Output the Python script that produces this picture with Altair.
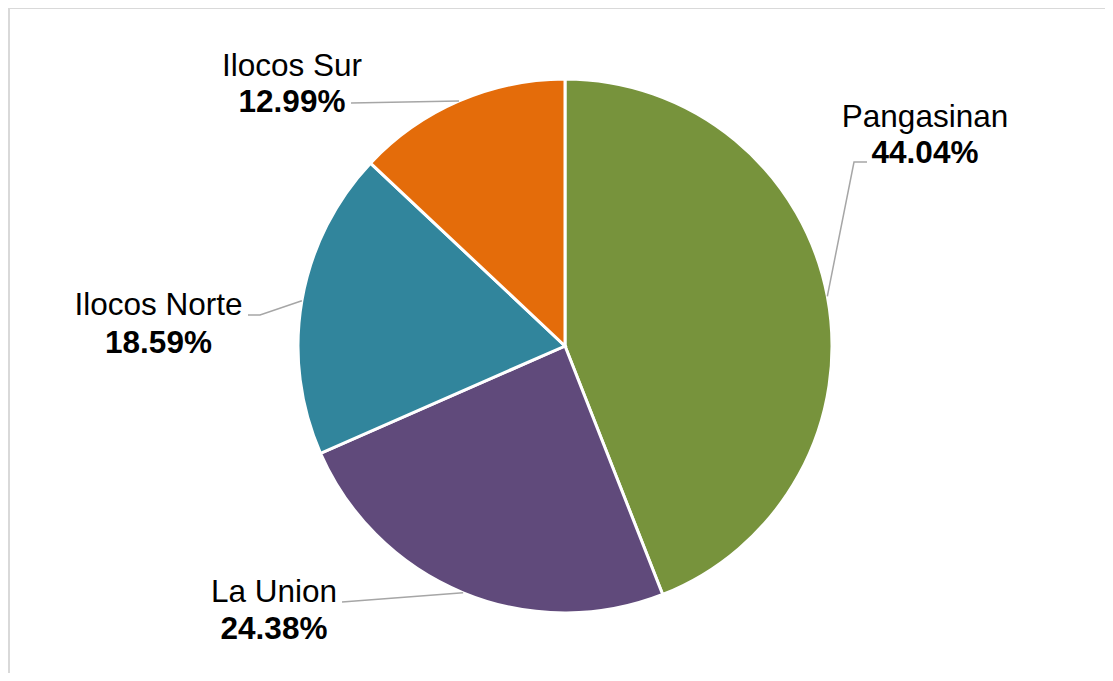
import math
import altair as alt
import pandas as pd

# ---- data ----
regions = ["Pangasinan", "La Union", "Ilocos Norte", "Ilocos Sur"]
shares = [44.04, 24.38, 18.59, 12.99]
colors = ["#77933C", "#604A7B", "#31859C", "#E46C0A"]

# ---- layout (view pixels) ----
W, H = 1097, 665
CX, CY, R = 557, 338, 267
FONT = "Liberation Sans"
FS = 31.5
label_layout = {
    "Pangasinan": dict(tx=917, y1=119, y2=155, path=[(846, 154), (859, 154)]),
    "La Union": dict(tx=266, y1=594, y2=631, path=[(334, 594)]),
    "Ilocos Norte": dict(tx=150.5, y1=307, y2=345, path=[(252, 307), (240, 307)]),
    "Ilocos Sur": dict(tx=284, y1=68, y2=104, path=[(343, 95)]),
}

total = sum(shares)
pie_rows, label_rows, line_rows = [], [], []
cum = 0.0
for i, (reg, s) in enumerate(zip(regions, shares)):
    mid = (cum + s / 2) / total * 2 * math.pi
    cum += s
    pie_rows.append(dict(region=reg, share=s, order=i))
    lay = label_layout[reg]
    label_rows.append(dict(region=reg, pct=f"{s:.2f}%", tx=lay["tx"], y1=lay["y1"], y2=lay["y2"]))
    pts = [(CX + R * math.sin(mid), CY - R * math.cos(mid))] + lay["path"]
    for j, (px, py) in enumerate(pts):
        line_rows.append(dict(region=reg, seq=j, x=px, y=py))

pie_df = pd.DataFrame(pie_rows)
lab_df = pd.DataFrame(label_rows)
line_df = pd.DataFrame(line_rows)

arcs = alt.Chart(pie_df).mark_arc(outerRadius=R, stroke="white", strokeWidth=3).encode(
    theta=alt.Theta("share:Q", stack=True),
    color=alt.Color("region:N", scale=alt.Scale(domain=regions, range=colors), legend=None),
    order=alt.Order("order:Q"),
    x=alt.value(CX),
    y=alt.value(CY),
)

leaders = alt.Chart(line_df).mark_line(color="#A6A6A6", strokeWidth=1.5).encode(
    x=alt.X("x:Q", scale=None, axis=None),
    y=alt.Y("y:Q", scale=None, axis=None),
    detail="region:N",
    order="seq:Q",
)

names = alt.Chart(lab_df).mark_text(
    font=FONT, fontSize=FS, align="center", baseline="alphabetic", color="#000000"
).encode(
    x=alt.X("tx:Q", scale=None, axis=None),
    y=alt.Y("y1:Q", scale=None, axis=None),
    text="region:N",
)

pcts = alt.Chart(lab_df).mark_text(
    font=FONT, fontSize=FS, fontWeight="bold", align="center", baseline="alphabetic", color="#000000"
).encode(
    x=alt.X("tx:Q", scale=None, axis=None),
    y=alt.Y("y2:Q", scale=None, axis=None),
    text="pct:N",
)

frame_left = alt.Chart(pie_df).mark_rule(color="#D9D9D9", strokeWidth=2).encode(
    x=alt.value(1), y=alt.value(0), y2=alt.value(H)
)
frame_top = alt.Chart(pie_df).mark_rule(color="#D9D9D9", strokeWidth=2).encode(
    x=alt.value(0), x2=alt.value(W), y=alt.value(0)
)

chart = alt.layer(frame_left, frame_top, arcs, leaders, names, pcts).properties(
    width=W, height=H, padding=0, autosize="none"
).configure_view(stroke=None)

chart.save("out.html", embed_options={"renderer": "svg", "actions": False})
